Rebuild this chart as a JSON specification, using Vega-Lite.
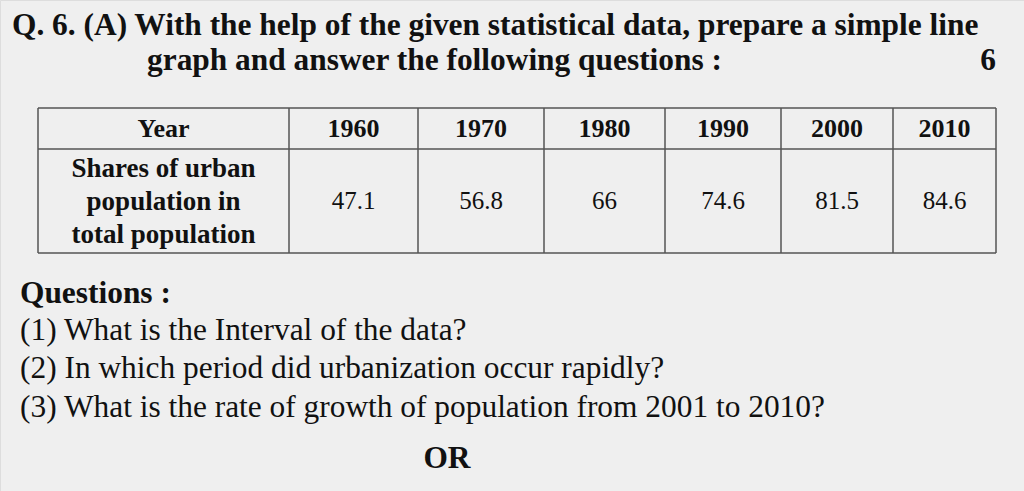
{
  "$schema": "https://vega.github.io/schema/vega-lite/v6.json",
  "width": 1024,
  "height": 491,
  "autosize": {"type": "none"},
  "padding": 0,
  "background": "#efefef",
  "resolve": {"scale": {"x": "independent", "y": "independent"}},
  "layer": [
    {
      "data": {"values": [
        {"Year": 1960, "Share": "47.1"},
        {"Year": 1970, "Share": "56.8"},
        {"Year": 1980, "Share": "66"},
        {"Year": 1990, "Share": "74.6"},
        {"Year": 2000, "Share": "81.5"},
        {"Year": 2010, "Share": "84.6"}
      ]},
      "layer": [
        {
          "data": {"values": [
            {"edge": 1945}, {"edge": 1955}, {"edge": 1965}, {"edge": 1975},
            {"edge": 1985}, {"edge": 1995}, {"edge": 2005}, {"edge": 2015}
          ]},
          "mark": {"type": "rule", "color": "#555555", "strokeWidth": 1.5},
          "encoding": {
            "x": {
              "field": "edge", "type": "quantitative", "axis": null,
              "scale": {
                "domain": [1945, 1955, 1965, 1975, 1985, 1995, 2005, 2015],
                "range": [38, 289, 418, 544, 665, 781, 893, 996],
                "zero": false, "nice": false
              }
            },
            "y": {
              "datum": 0, "type": "quantitative", "axis": null,
              "scale": {"domain": [0, 1, 2], "range": [108, 149, 253], "zero": false, "nice": false}
            },
            "y2": {"datum": 2}
          }
        },
        {
          "data": {"values": [{"border": 0}, {"border": 1}, {"border": 2}]},
          "mark": {"type": "rule", "color": "#555555", "strokeWidth": 1.5},
          "encoding": {
            "x": {"datum": 1945, "type": "quantitative"},
            "x2": {"datum": 2015},
            "y": {"field": "border", "type": "quantitative"}
          }
        },
        {
          "data": {"values": [{"label": "Year"}]},
          "mark": {"type": "text", "font": "Liberation Serif", "fontSize": 26, "fontWeight": "bold", "color": "#111111", "baseline": "middle"},
          "encoding": {
            "x": {"datum": 1950, "type": "quantitative"},
            "y": {"datum": 0.5, "type": "quantitative"},
            "text": {"field": "label", "type": "nominal"}
          }
        },
        {
          "data": {"values": [{"label": "Shares of urban\npopulation in\ntotal population"}]},
          "mark": {"type": "text", "font": "Liberation Serif", "fontSize": 27, "fontWeight": "bold", "color": "#111111", "baseline": "middle", "lineBreak": "\n", "lineHeight": 33, "dy": -32},
          "encoding": {
            "x": {"datum": 1950, "type": "quantitative"},
            "y": {"datum": 1.5, "type": "quantitative"},
            "text": {"field": "label", "type": "nominal"}
          }
        },
        {
          "mark": {"type": "text", "font": "Liberation Serif", "fontSize": 26, "fontWeight": "bold", "color": "#111111", "baseline": "middle"},
          "encoding": {
            "x": {"field": "Year", "type": "quantitative"},
            "y": {"datum": 0.5, "type": "quantitative"},
            "text": {"field": "Year", "type": "nominal"}
          }
        },
        {
          "mark": {"type": "text", "font": "Liberation Serif", "fontSize": 25, "color": "#111111", "baseline": "middle"},
          "encoding": {
            "x": {"field": "Year", "type": "quantitative"},
            "y": {"datum": 1.5, "type": "quantitative"},
            "text": {"field": "Share", "type": "nominal"}
          }
        }
      ]
    },
    {
      "data": {"values": [
        {"part": "heading", "line": 1, "tab": 0, "text": "Q. 6. (A) With the help of the given statistical data, prepare a simple line"},
        {"part": "heading", "line": 2, "tab": 2, "text": "graph and answer the following questions :"},
        {"part": "marks", "line": 2, "tab": 4, "text": "6"},
        {"part": "heading", "line": 3, "tab": 1, "text": "Questions :"},
        {"part": "question", "line": 4, "tab": 1, "text": "(1) What is the Interval of the data?"},
        {"part": "question", "line": 5, "tab": 1, "text": "(2) In which period did urbanization occur rapidly?"},
        {"part": "question", "line": 6, "tab": 1, "text": "(3) What is the rate of growth of population from 2001 to 2010?"},
        {"part": "or", "line": 7, "tab": 3, "text": "OR"}
      ]},
      "encoding": {
        "x": {
          "field": "tab", "type": "quantitative", "axis": null,
          "scale": {"domain": [0, 1, 2, 3, 4], "range": [12, 20, 147, 447, 996], "zero": false, "nice": false}
        },
        "y": {
          "field": "line", "type": "quantitative", "axis": null,
          "scale": {"domain": [1, 2, 3, 4, 5, 6, 7], "range": [35, 70, 303, 340, 378, 417, 468], "zero": false, "nice": false}
        },
        "text": {"field": "text", "type": "nominal"}
      },
      "layer": [
        {
          "transform": [{"filter": "datum.part == 'heading'"}],
          "mark": {"type": "text", "font": "Liberation Serif", "fontSize": 31.4, "fontWeight": "bold", "color": "#111111", "align": "left", "baseline": "alphabetic"}
        },
        {
          "transform": [{"filter": "datum.part == 'marks'"}],
          "mark": {"type": "text", "font": "Liberation Serif", "fontSize": 31.4, "fontWeight": "bold", "color": "#111111", "align": "right", "baseline": "alphabetic"}
        },
        {
          "transform": [{"filter": "datum.part == 'question'"}],
          "mark": {"type": "text", "font": "Liberation Serif", "fontSize": 31.4, "color": "#111111", "align": "left", "baseline": "alphabetic"}
        },
        {
          "transform": [{"filter": "datum.part == 'or'"}],
          "mark": {"type": "text", "font": "Liberation Serif", "fontSize": 31.4, "fontWeight": "bold", "color": "#111111", "align": "center", "baseline": "alphabetic"}
        }
      ]
    }
  ]
}
